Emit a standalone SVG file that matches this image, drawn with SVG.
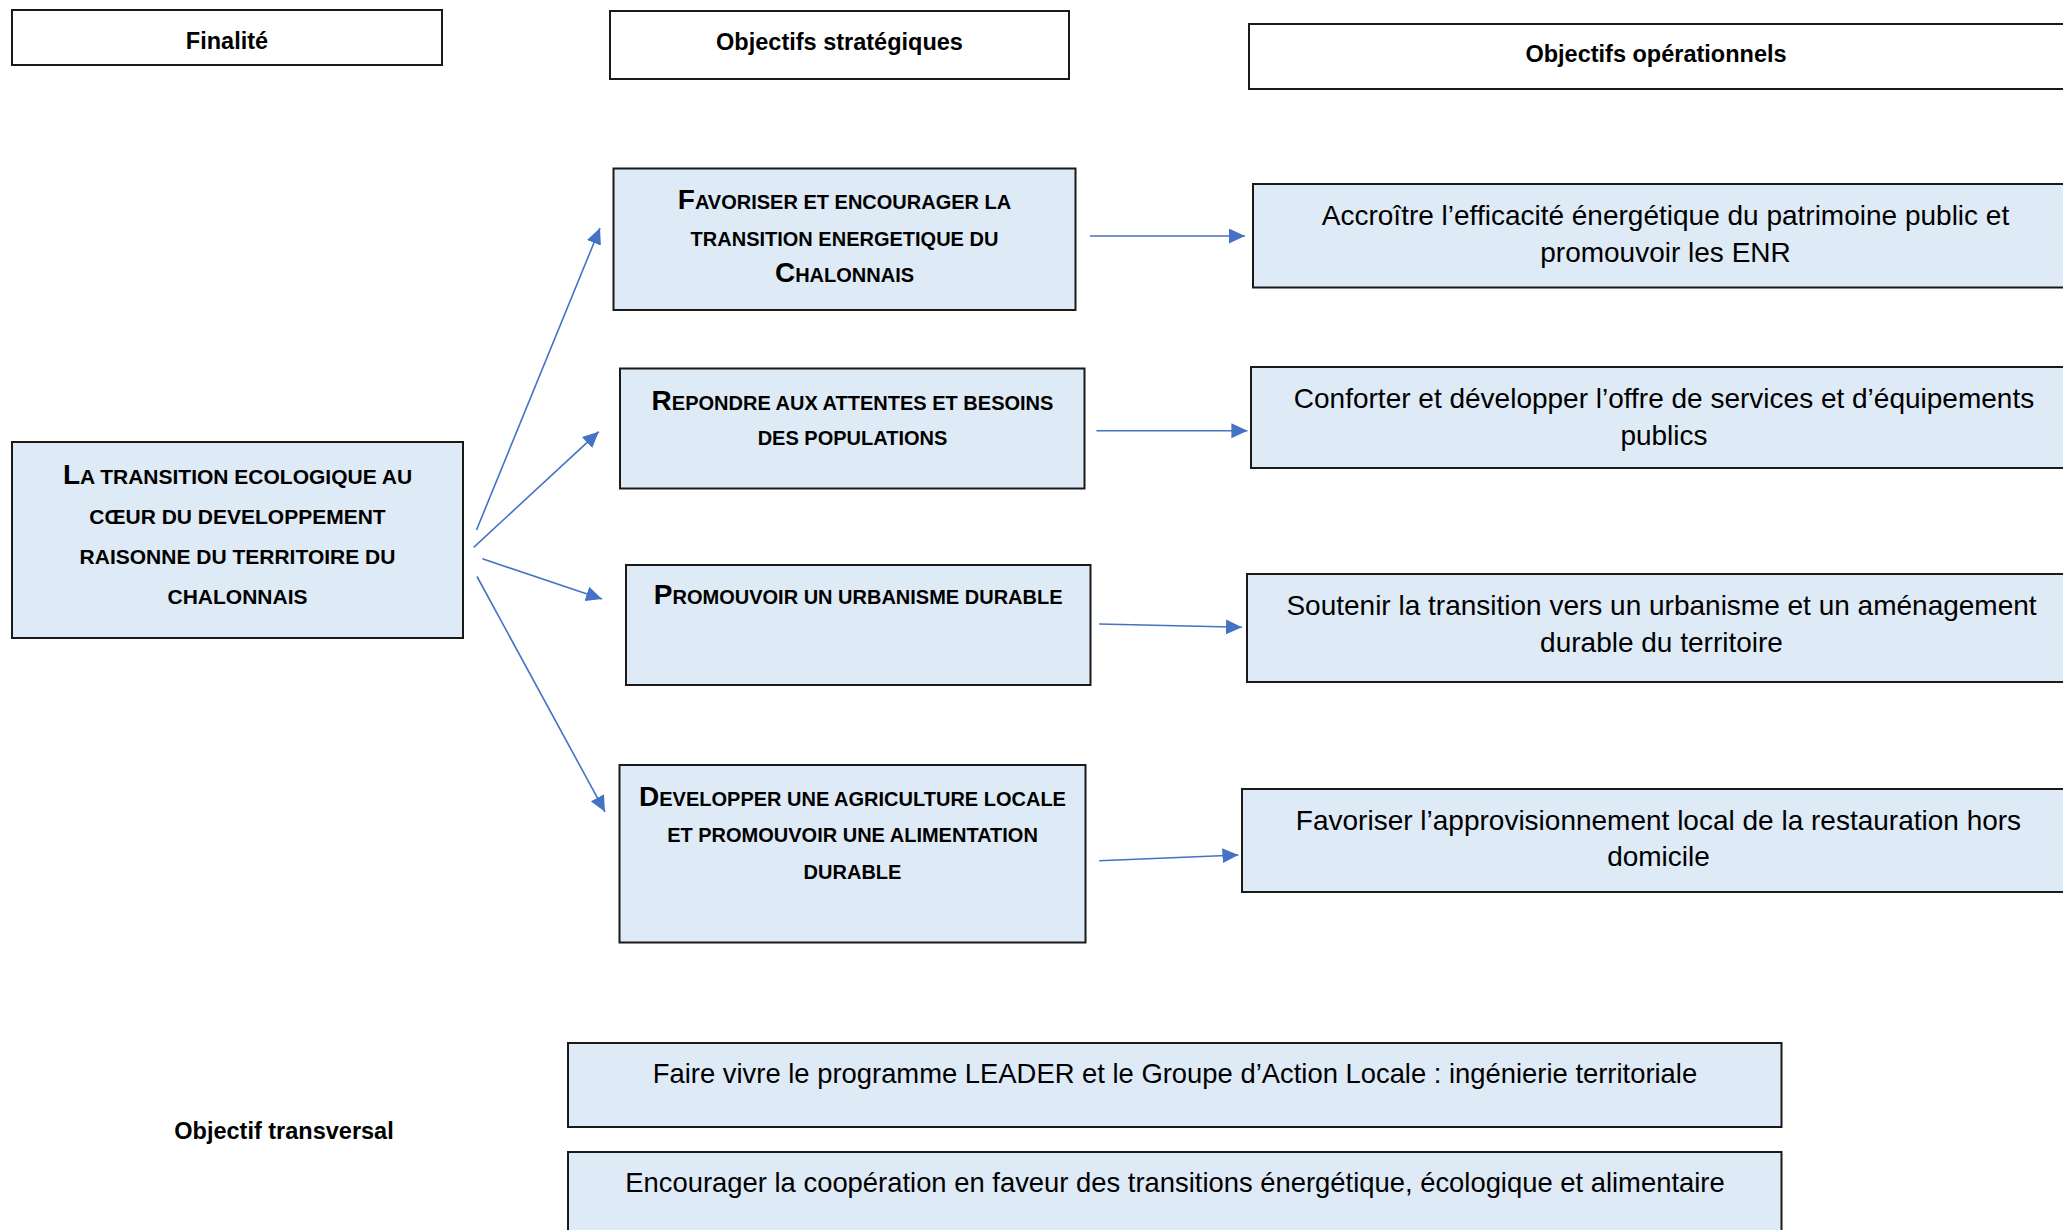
<svg xmlns="http://www.w3.org/2000/svg" width="2063" height="1230" viewBox="0 0 2063 1230">
<defs>
<style>
.hdr{fill:#ffffff;stroke:#1a1a1a;stroke-width:2}
.box{fill:#deeaf6;stroke:#1a1a1a;stroke-width:2}
.ht{font-family:"Liberation Sans",Arial,sans-serif;font-weight:bold;font-size:23.5px;fill:#000;text-anchor:middle}
.cap{font-family:"Liberation Sans",Arial,sans-serif;font-weight:bold;font-size:20px;fill:#000;text-anchor:middle}
.capL{font-family:"Liberation Sans",Arial,sans-serif;font-weight:bold;font-size:21px;fill:#000;text-anchor:middle}
.big{font-size:28px}
.bt{font-family:"Liberation Sans",Arial,sans-serif;font-size:28px;fill:#000;text-anchor:middle}
.bb{font-family:"Liberation Sans",Arial,sans-serif;font-size:27.4px;fill:#000;text-anchor:middle}
.conn{stroke:#4472c4;stroke-width:1.6;fill:none;marker-end:url(#ah)}
</style>
<marker id="ah" markerUnits="userSpaceOnUse" markerWidth="16" markerHeight="15" refX="16" refY="7.5" orient="auto">
<path d="M0,0 L16,7.5 L0,15 z" fill="#4472c4"/>
</marker>
</defs>
<rect width="2063" height="1230" fill="#ffffff"/>

<g id="hdr-finalite">
<rect class="hdr" x="12" y="10" width="430" height="55"/>
<text class="ht" x="227" y="49">Finalité</text>
</g>
<g id="hdr-strategiques">
<rect class="hdr" x="610" y="11" width="459" height="68"/>
<text class="ht" x="839.5" y="50">Objectifs stratégiques</text>
</g>
<g id="hdr-operationnels">
<rect class="hdr" x="1249" y="24" width="830" height="65"/>
<text class="ht" x="1656" y="62">Objectifs opérationnels</text>
</g>

<g id="finalite">
<rect class="box" x="12" y="442" width="451" height="196"/>
<text class="capL" x="237.5" y="484"><tspan class="big">L</tspan>A TRANSITION ECOLOGIQUE AU</text>
<text class="capL" x="237.5" y="524">CŒUR DU DEVELOPPEMENT</text>
<text class="capL" x="237.5" y="564">RAISONNE DU TERRITOIRE DU</text>
<text class="capL" x="237.5" y="604">CHALONNAIS</text>
</g>

<g id="os1">
<rect class="box" x="613.5" y="168.5" width="462" height="141.5"/>
<text class="cap" x="844.5" y="209"><tspan class="big">F</tspan>AVORISER ET ENCOURAGER LA</text>
<text class="cap" x="844.5" y="245.5">TRANSITION ENERGETIQUE DU</text>
<text class="cap" x="844.5" y="282"><tspan class="big">C</tspan>HALONNAIS</text>
</g>
<g id="os2">
<rect class="box" x="620" y="368.5" width="464.5" height="120"/>
<text class="cap" x="852.5" y="409.5"><tspan class="big">R</tspan>EPONDRE AUX ATTENTES ET BESOINS</text>
<text class="cap" x="852.5" y="445">DES POPULATIONS</text>
</g>
<g id="os3">
<rect class="box" x="626" y="565" width="464.5" height="120"/>
<text class="cap" x="858.2" y="604"><tspan class="big">P</tspan>ROMOUVOIR UN URBANISME DURABLE</text>
</g>
<g id="os4">
<rect class="box" x="619.5" y="765" width="466" height="177.5"/>
<text class="cap" x="852.5" y="805.5"><tspan class="big">D</tspan>EVELOPPER UNE AGRICULTURE LOCALE</text>
<text class="cap" x="852.5" y="842">ET PROMOUVOIR UNE ALIMENTATION</text>
<text class="cap" x="852.5" y="878.5">DURABLE</text>
</g>

<g id="op1">
<rect class="box" x="1253" y="184" width="830" height="103.5"/>
<text class="bt" x="1665.5" y="225">Accroître l’efficacité énergétique du patrimoine public et</text>
<text class="bt" x="1665.5" y="262">promouvoir les ENR</text>
</g>
<g id="op2">
<rect class="box" x="1251" y="367" width="830" height="101"/>
<text class="bt" x="1664" y="408">Conforter et développer l’offre de services et d’équipements</text>
<text class="bt" x="1664" y="445">publics</text>
</g>
<g id="op3">
<rect class="box" x="1247" y="574" width="830" height="108"/>
<text class="bt" x="1661.5" y="614.5">Soutenir la transition vers un urbanisme et un aménagement</text>
<text class="bt" x="1661.5" y="651.5">durable du territoire</text>
</g>
<g id="op4">
<rect class="box" x="1242" y="789" width="830" height="103"/>
<text class="bt" x="1658.5" y="829.5">Favoriser l’approvisionnement local de la restauration hors</text>
<text class="bt" x="1658.5" y="865.5">domicile</text>
</g>

<g id="transversal-label">
<text class="ht" x="284" y="1139">Objectif transversal</text>
</g>
<g id="ot1">
<rect class="box" x="568" y="1043" width="1213.5" height="84"/>
<text class="bb" x="1175" y="1083">Faire vivre le programme LEADER et le Groupe d’Action Locale : ingénierie territoriale</text>
</g>
<g id="ot2">
<rect class="box" x="568" y="1152" width="1213.5" height="100"/>
<text class="bb" x="1175" y="1192">Encourager la coopération en faveur des transitions énergétique, écologique et alimentaire</text>
</g>

<g id="connectors">
<line class="conn" x1="476.5" y1="530" x2="600" y2="228"/>
<line class="conn" x1="473.7" y1="547.3" x2="598.8" y2="431.7"/>
<line class="conn" x1="482.4" y1="558.8" x2="602" y2="599"/>
<line class="conn" x1="477" y1="576.5" x2="605" y2="811.8"/>
<line class="conn" x1="1090" y1="236" x2="1245" y2="236"/>
<line class="conn" x1="1096.5" y1="430.7" x2="1247.4" y2="430.7"/>
<line class="conn" x1="1099.2" y1="624" x2="1242" y2="627.3"/>
<line class="conn" x1="1099.2" y1="860.7" x2="1238.4" y2="855"/>
</g>
</svg>
